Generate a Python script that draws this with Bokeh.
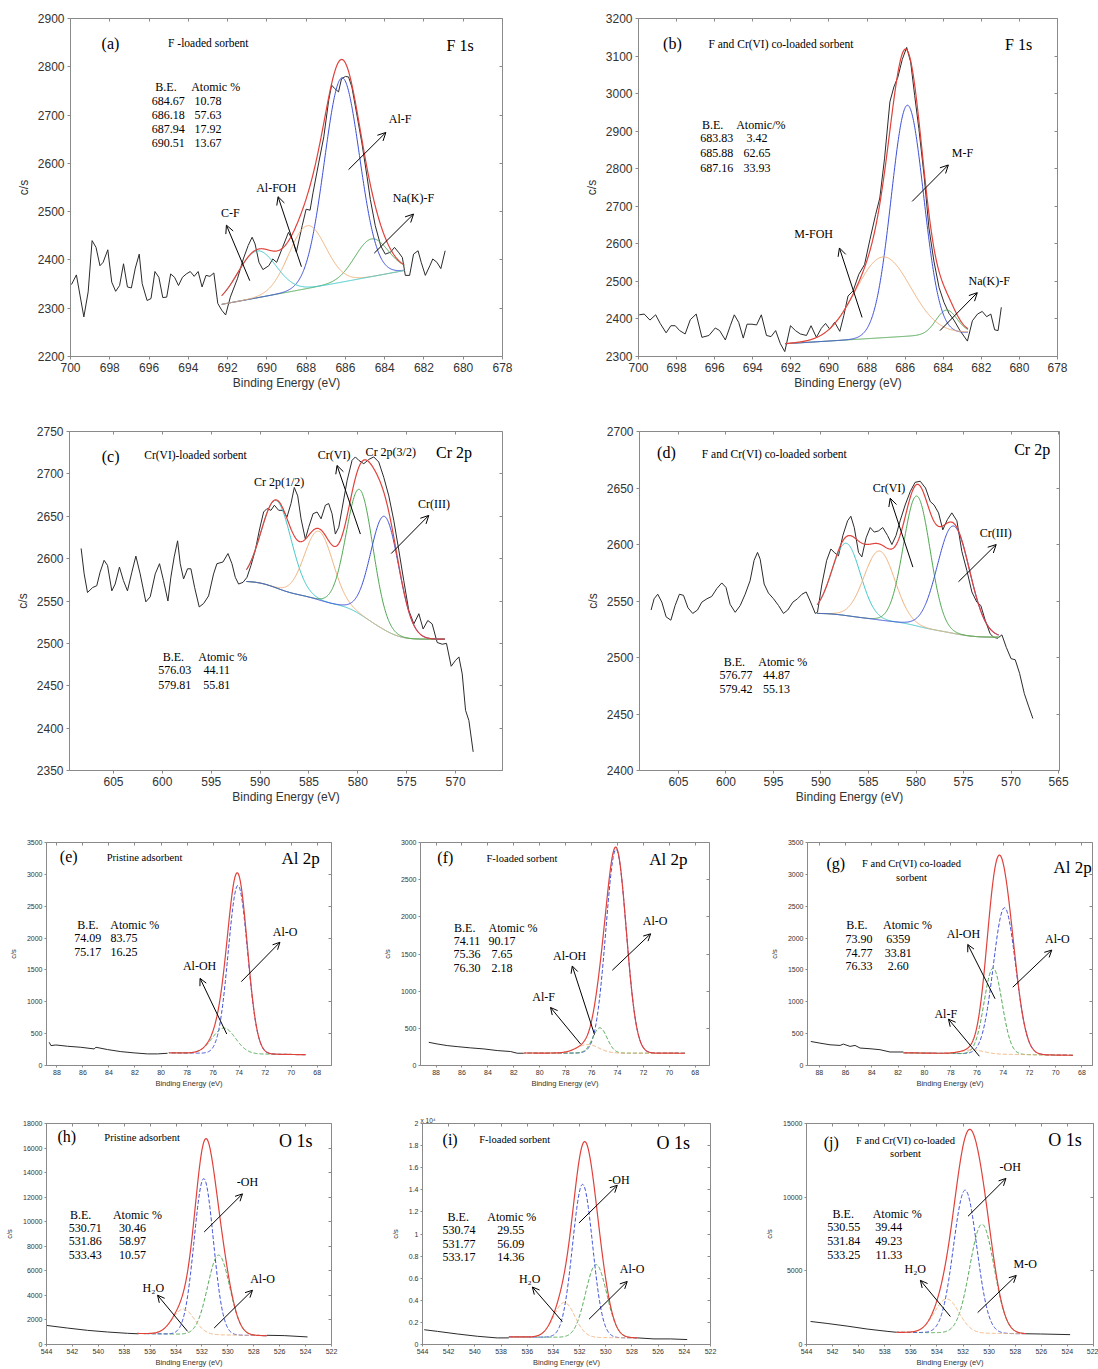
import numpy as np
from bokeh.plotting import figure
from bokeh.models import Range1d, FixedTicker, LinearAxis, Label, Arrow, OpenHead, Title
from bokeh.layouts import row, column
from bokeh.embed import file_html
from bokeh.resources import INLINE

SERIF = "Liberation Serif"
SANS = "Liberation Sans"
RAW = "#2b2b2b"
RED = "#e0413b"
BLUE = "#3d4fd8"
ORANGE = "#f0b07a"
CYAN = "#3ec5c8"
GREEN = "#4ca64f"
FRAME = "#8a8a8a"
TICKTXT = "#333333"

# ---------------------------------------------------------------- (a) F 1s, F-loaded sorbent
A_BE = [699.95, 699.70, 699.32, 699.10, 698.90, 698.70, 698.50, 698.34, 698.10, 697.90,
        697.70, 697.50, 697.30, 697.10, 696.90, 696.70, 696.50, 696.35, 696.10, 695.90,
        695.70, 695.50, 695.30, 695.10, 694.90, 694.70, 694.50, 694.30, 694.10, 693.90,
        693.70, 693.50, 693.30, 693.10, 692.90, 692.70, 692.50, 692.30, 692.10, 691.86,
        691.50, 691.20, 690.95, 690.75, 690.60, 690.40, 690.20, 689.90, 689.70, 689.50,
        689.20, 688.90, 688.70, 688.50, 688.20, 688.00, 687.80, 687.65, 687.36, 687.10,
        686.85, 686.70, 686.55, 686.35, 686.20, 686.00, 685.84, 685.67, 685.40, 685.16,
        684.90, 684.73, 684.48, 684.20, 683.97, 683.70, 683.50, 683.30, 683.10, 682.95,
        682.73, 682.53, 682.30, 682.14, 681.93, 681.70, 681.55, 681.34, 681.14, 680.92]
A_CS = [2349, 2369, 2282, 2334, 2440, 2426, 2388, 2395, 2421, 2354,
        2335, 2347, 2392, 2344, 2342, 2383, 2412, 2351, 2316, 2320,
        2376, 2364, 2322, 2323, 2371, 2364, 2347, 2364, 2371, 2376,
        2366, 2376, 2344, 2368, 2366, 2373, 2310, 2296, 2286, 2323,
        2361, 2402, 2430, 2447, 2433, 2395, 2380, 2388, 2402, 2395,
        2426, 2457, 2442, 2416, 2471, 2505, 2503, 2539, 2601, 2655,
        2731, 2762, 2755, 2748, 2775, 2780, 2779, 2758, 2697, 2642,
        2573, 2525, 2471, 2429, 2412, 2416, 2426, 2416, 2405, 2368,
        2368, 2412, 2419, 2395, 2368, 2388, 2402, 2395, 2382, 2419]
A_TAB_BE = ["684.67", "686.18", "687.94", "690.51"]
A_TAB_AT = ["10.78", "57.63", "17.92", "13.67"]
A_HEIGHT = [78, 423, 130, 97]          # Na(K)-F, Al-F, Al-FOH, C-F
A_FWHM = [2.0, 2.1, 2.2, 2.3]
A_COLORS = [GREEN, BLUE, ORANGE, CYAN]
A_FIT = (683.0, 2378, 692.3, 2308)
A_XTICKS = list(range(700, 677, -2))
A_YTICKS = list(range(2200, 2901, 100))

# ---------------------------------------------------------------- (b) F 1s, F and Cr(VI) co-loaded
B_BE = [699.96, 699.70, 699.40, 699.10, 698.86, 698.55, 698.30, 698.07, 697.84, 697.55,
        697.28, 696.97, 696.67, 696.30, 695.97, 695.74, 695.44, 695.18, 694.97, 694.74,
        694.50, 694.30, 694.04, 693.80, 693.55, 693.28, 693.04, 692.80, 692.55, 692.32,
        692.02, 691.76, 691.50, 691.18, 690.94, 690.66, 690.40, 690.18, 689.96, 689.70,
        689.43, 689.22, 689.00, 688.73, 688.43, 688.13, 687.85, 687.55, 687.33, 687.08,
        686.80, 686.59, 686.38, 686.15, 685.92, 685.71, 685.50, 685.28, 685.01, 684.75,
        684.49, 684.22, 683.96, 683.70, 683.44, 683.12, 682.73, 682.47, 682.20, 681.95,
        681.72, 681.50, 681.30, 681.12, 680.95]
B_CS = [2411, 2413, 2397, 2411, 2388, 2363, 2382, 2382, 2369, 2360,
        2398, 2413, 2351, 2356, 2376, 2369, 2344, 2382, 2411, 2391,
        2349, 2386, 2386, 2384, 2411, 2356, 2353, 2369, 2334, 2313,
        2382, 2369, 2360, 2356, 2382, 2351, 2375, 2388, 2373, 2391,
        2367, 2409, 2461, 2475, 2519, 2545, 2611, 2678, 2722, 2828,
        2978, 3018, 3044, 3091, 3123, 3084, 2995, 2907, 2784, 2642,
        2554, 2484, 2444, 2415, 2397, 2369, 2341, 2395, 2413, 2420,
        2406, 2413, 2371, 2369, 2431]
B_TAB_BE = ["683.83", "685.88", "687.16"]
B_TAB_AT = ["3.42", "62.65", "33.93"]
B_HEIGHT = [63, 615, 215]              # Na(K)-F, M-F, M-FOH
B_FWHM = [1.3, 2.0, 3.4]
B_COLORS = [GREEN, BLUE, ORANGE]
B_FIT = (682.7, 2364, 692.3, 2334)
B_XTICKS = list(range(700, 677, -2))
B_YTICKS = list(range(2300, 3201, 100))

# ---------------------------------------------------------------- (c) Cr 2p, Cr(VI)-loaded
C_BE = [608.31, 608.00, 607.66, 607.12, 606.71, 606.37, 605.96, 605.61, 605.17, 604.83,
        604.39, 603.98, 603.57, 603.12, 602.71, 602.27, 601.69, 601.24, 600.73, 600.29,
        599.88, 599.43, 599.13, 598.79, 598.44, 598.17, 597.83, 597.42, 597.08, 596.70,
        596.23, 595.78, 595.27, 594.76, 594.42, 593.80, 593.29, 592.88, 592.54, 592.20,
        591.75, 591.34, 590.93, 590.49, 590.05, 589.64, 589.30, 588.89, 588.54, 588.10,
        587.66, 587.25, 586.84, 586.50, 586.15, 585.81, 585.37, 585.03, 584.58, 584.17,
        583.76, 583.32, 582.98, 582.64, 582.30, 581.95, 581.61, 581.10, 580.59, 580.25,
        579.91, 579.39, 578.88, 578.37, 577.86, 577.35, 576.83, 576.32, 575.81, 575.30,
        574.79, 574.27, 573.76, 573.32, 572.84, 572.40, 571.88, 571.37, 570.93, 570.45,
        570.00, 569.66, 569.32, 568.98, 568.64, 568.20]
C_CS = [2612, 2582, 2560, 2566, 2568, 2584, 2598, 2592, 2562, 2570,
        2590, 2574, 2562, 2584, 2603, 2582, 2549, 2555, 2582, 2594,
        2574, 2550, 2578, 2602, 2621, 2594, 2576, 2588, 2588, 2566,
        2543, 2547, 2556, 2582, 2594, 2596, 2606, 2594, 2578, 2570,
        2572, 2578, 2592, 2610, 2635, 2655, 2659, 2657, 2663, 2657,
        2657, 2649, 2665, 2684, 2674, 2647, 2623, 2637, 2653, 2655,
        2647, 2663, 2665, 2653, 2629, 2637, 2659, 2692, 2716, 2720,
        2716, 2712, 2717, 2720, 2714, 2696, 2674, 2645, 2610, 2574,
        2539, 2523, 2535, 2517, 2527, 2523, 2501, 2499, 2500, 2473,
        2480, 2484, 2464, 2421, 2409, 2372]
C_TAB_BE = ["576.03", "579.81"]
C_TAB_AT = ["44.11", "55.81"]
C_CENTER = [588.34, 584.00, 579.81, 577.24]
C_HEIGHT = [103, 81, 147, 134]
C_FWHM = [3.6, 3.4, 3.2, 3.4]
C_COLORS = [CYAN, ORANGE, GREEN, BLUE]
C_FIT = (571.1, 2505, 591.4, 2573)
C_XTICKS = list(range(605, 564, -5))
C_YTICKS = list(range(2350, 2751, 50))

# ---------------------------------------------------------------- (d) Cr 2p, F and Cr(VI) co-loaded
D_BE = [607.88, 607.56, 607.18, 606.75, 606.30, 605.80, 605.35, 604.90, 604.47, 604.00,
        603.50, 603.00, 602.54, 602.00, 601.50, 600.96, 600.44, 600.00, 599.56, 599.03,
        598.50, 597.98, 597.46, 597.04, 596.68, 596.40, 595.98, 595.53, 595.00, 594.47,
        593.95, 593.50, 592.96, 592.47, 592.00, 591.56, 591.14, 590.60, 590.37, 589.90,
        589.40, 588.96, 588.60, 588.16, 587.70, 587.20, 586.86, 586.50, 586.05, 585.70,
        585.25, 584.82, 584.40, 583.95, 583.50, 583.00, 582.54, 582.10, 581.67, 581.14,
        580.60, 580.10, 579.56, 579.00, 578.50, 578.10, 577.63, 577.18, 576.70, 576.23,
        575.70, 575.18, 574.65, 574.12, 573.60, 573.18, 572.72, 572.20, 571.84, 571.42,
        570.96, 570.50, 570.00, 569.56, 569.10, 568.60, 568.16, 567.70]
D_CS = [2542, 2552, 2556, 2549, 2536, 2533, 2546, 2556, 2555, 2544,
        2539, 2542, 2549, 2552, 2554, 2561, 2566, 2562, 2547, 2540,
        2546, 2556, 2568, 2586, 2593, 2587, 2565, 2557, 2552, 2546,
        2539, 2542, 2549, 2552, 2556, 2558, 2550, 2539, 2540, 2565,
        2586, 2596, 2593, 2590, 2608, 2621, 2625, 2615, 2593, 2589,
        2606, 2615, 2611, 2612, 2615, 2608, 2600, 2608, 2621, 2635,
        2647, 2655, 2656, 2650, 2638, 2635, 2628, 2613, 2622, 2628,
        2621, 2594, 2577, 2558, 2549, 2546, 2533, 2521, 2518, 2517,
        2520, 2509, 2499, 2498, 2486, 2468, 2457, 2446]
D_TAB_BE = ["576.77", "579.42"]
D_TAB_AT = ["44.87", "55.13"]
D_CENTER = [587.35, 583.84, 579.91, 576.05]
D_HEIGHT = [64, 61, 115, 95]
D_FWHM = [3.5, 3.8, 3.3, 4.0]
D_COLORS = [CYAN, ORANGE, GREEN, BLUE]
D_FIT = (571.3, 2518, 590.4, 2539)
D_XTICKS = list(range(605, 564, -5))
D_YTICKS = list(range(2400, 2701, 50))

# ---------------------------------------------------------------- (e) Al 2p, pristine
E_BE = [88.59, 88.46, 88.08, 87.18, 86.16, 85.14, 85.00, 84.11, 83.09, 82.07, 81.04, 80.27, 79.50]
E_CS = [364, 312, 322, 302, 286, 260, 286, 250, 218, 198, 182, 182, 192]
E_TAB_BE = ["74.09", "75.17"]
E_TAB_AT = ["83.75", "16.25"]
E_HEIGHT = [2640, 400]                 # Al-O, Al-OH
E_FWHM = [1.75, 2.1]
E_COLORS = [BLUE, GREEN]
E_FIT = (68.9, 170, 79.4, 200)
AL_XTICKS = list(range(88, 67, -2))
E_YTICKS = list(range(0, 3501, 500))

# ---------------------------------------------------------------- (f) Al 2p, F-loaded
F_BE = [88.56, 87.92, 87.14, 86.37, 85.34, 84.31, 83.28, 82.25, 81.74, 81.23]
F_CS = [312, 290, 268, 254, 237, 223, 201, 188, 165, 165]
F_TAB_BE = ["74.11", "75.36", "76.30"]
F_TAB_AT = ["90.17", "7.65", "2.18"]
F_HEIGHT = [2740, 340, 115]            # Al-O, Al-OH, Al-F
F_FWHM = [1.85, 1.3, 2.0]
F_COLORS = [BLUE, GREEN, ORANGE]
F_FIT = (68.8, 165, 81.2, 168)
F_YTICKS = list(range(0, 3001, 500))

# ---------------------------------------------------------------- (g) Al 2p, F and Cr(VI) co-loaded
G_BE = [88.65, 87.95, 87.19, 86.42, 86.17, 85.66, 85.28, 84.90, 84.14, 83.38, 82.62, 81.60]
G_CS = [377, 351, 325, 315, 336, 300, 315, 274, 263, 248, 212, 212]
G_TAB_BE = ["73.90", "74.77", "76.33"]
G_TAB_AT = ["6359", "33.81", "2.60"]
G_CENTER = [73.90, 74.77, 76.33]
G_HEIGHT = [2300, 1350, 60]            # Al-O, Al-OH, Al-F
G_FWHM = [2.0, 1.6, 2.0]
G_COLORS = [BLUE, GREEN, ORANGE]
G_FIT = (68.7, 160, 81.6, 200)
G_YTICKS = list(range(0, 3501, 500))

# ---------------------------------------------------------------- (h) O 1s, pristine
H_BE = [544.0, 542.38, 540.83, 539.29, 537.75, 536.9]
H_CS = [1554, 1339, 1152, 1018, 911, 870]
H_TAIL_BE = [527.0, 525.65, 523.85]
H_TAIL_CS = [750, 723, 616]
H_TAB_BE = ["530.71", "531.86", "533.43"]
H_TAB_AT = ["30.46", "58.97", "10.57"]
H_HEIGHT = [6500, 12700, 2050]         # Al-O, -OH, H2O
H_FWHM = [2.0, 1.75, 2.0]
O_COLORS = [GREEN, BLUE, ORANGE]
H_FIT = (527.0, 720, 537.0, 900)
O_XTICKS = list(range(544, 521, -2))
H_YTICKS = list(range(0, 18001, 2000))

# ---------------------------------------------------------------- (i) O 1s, F-loaded
I_BE = [543.87, 542.86, 541.33, 539.80, 538.28, 537.4]
I_CS = [1337, 1189, 951, 743, 594, 600]
I_TAIL_BE = [527.6, 526.32, 525.05, 523.78]
I_TAIL_CS = [600, 505, 505, 446]
I_TAB_BE = ["530.74", "531.77", "533.17"]
I_TAB_AT = ["29.55", "56.09", "14.36"]
I_HEIGHT = [6600, 13850, 3150]
I_FWHM = [1.9, 1.8, 1.9]
I_FIT = (527.6, 600, 537.4, 690)
I_YTICKS = list(range(0, 20001, 2000))
I_YLABELS = ["0", "0.2", "0.4", "0.6", "0.8", "1", "1.2", "1.4", "1.6", "1.8", "2"]

# ---------------------------------------------------------------- (j) O 1s, F and Cr(VI) co-loaded
J_BE = [543.69, 542.42, 540.89, 539.35, 537.82, 537.1]
J_CS = [1563, 1429, 1250, 1049, 893, 830]
J_TAIL_BE = [527.2, 526.08, 523.79]
J_TAIL_CS = [730, 714, 670]
J_TAB_BE = ["530.55", "531.84", "533.25"]
J_TAB_AT = ["39.44", "49.23", "11.33"]
J_HEIGHT = [7400, 9700, 2300]          # M-O, -OH, H2O
J_FWHM = [2.2, 2.1, 2.2]
J_FIT = (527.2, 730, 537.1, 830)
J_YTICKS = list(range(0, 15001, 5000))


def panel(width, height, borders, xr, yr, xt, yt, small):
    l, r, t, b = borders
    p = figure(width=width, height=height, x_range=Range1d(*xr), y_range=Range1d(*yr),
               output_backend="svg", toolbar_location=None, title=None,
               min_border_left=l, min_border_right=r, min_border_top=t, min_border_bottom=b,
               background_fill_color="white", border_fill_color="white",
               outline_line_color=FRAME, outline_line_width=1)
    p.grid.visible = False
    for ax in (p.xaxis[0], p.yaxis[0]):
        ax.axis_line_color = FRAME
        ax.major_tick_line_color = FRAME
        ax.minor_tick_line_color = None
        ax.major_tick_out = 2 if small else 3
        ax.major_tick_in = 0
        ax.major_label_standoff = 2 if small else 3
        ax.major_label_text_font = SANS
        ax.major_label_text_font_size = "7px" if small else "12px"
        ax.major_label_text_color = TICKTXT
        ax.axis_label_text_font = SANS
        ax.axis_label_text_font_style = "normal"
        ax.axis_label_text_font_size = "7.5px" if small else "12px"
        ax.axis_label_text_color = TICKTXT
    p.xaxis.ticker = FixedTicker(ticks=xt)
    p.yaxis.ticker = FixedTicker(ticks=yt)
    p.xaxis.axis_label = "Binding Energy (eV)"
    p.yaxis.axis_label = "c/s"
    p.xaxis.axis_label_standoff = 1
    p.yaxis.axis_label_standoff = 6 if small else 4
    # mirrored inward ticks on the top and right edges of the frame
    for loc, ticks in (("above", xt), ("right", yt)):
        mirror = LinearAxis(ticker=FixedTicker(ticks=ticks),
                            major_label_overrides={v: "" for v in ticks},
                            major_label_text_font_size="0px", major_label_standoff=0,
                            major_tick_in=3, major_tick_out=0,
                            axis_line_color=None, major_tick_line_color=FRAME,
                            minor_tick_line_color=None)
        p.add_layout(mirror, loc)
    return p


def fit(p, spec, centers, heights, fwhms, colors, shirley=False, dash="solid"):
    lo, y_lo, hi, y_hi = spec
    be = np.linspace(lo, hi, 400)
    peaks = [h * np.exp(-4 * np.log(2) * ((be - c) / w) ** 2)
             for c, h, w in zip(centers, heights, fwhms)]
    total = np.sum(peaks, axis=0)
    if shirley:
        area = np.cumsum(total)
        area = (area - area[0]) / (area[-1] - area[0])
        base = y_lo + (y_hi - y_lo) * area
    else:
        base = y_lo + (y_hi - y_lo) * (be - lo) / (hi - lo)
    for pk, col in zip(peaks, colors):
        p.line(be, base + pk, line_color=col, line_width=1, line_dash=dash)
    p.line(be, base + total, line_color=RED, line_width=1.2)


def note(p, fx, fy, text, size, align="center"):
    x0, x1 = p.x_range.start, p.x_range.end
    y0, y1 = p.y_range.start, p.y_range.end
    p.add_layout(Label(x=x0 + fx * (x1 - x0), y=y0 + fy * (y1 - y0), text=text,
                       text_font=SERIF, text_font_size=f"{size}px", text_color="black",
                       text_align=align, text_baseline="middle"))


def pointer(p, xs, ys, xe, ye, size=8):
    p.add_layout(Arrow(end=OpenHead(size=size, line_width=1, line_color="black"),
                       x_start=xs, y_start=ys, x_end=xe, y_end=ye,
                       line_width=1, line_color="black"))


def table(p, head, hfx, hfy, cfx, rfy, col1, col2, size=12):
    note(p, hfx[0], hfy, "B.E.", size)
    note(p, hfx[1], hfy, head, size)
    for fy, a, b in zip(rfy, col1, col2):
        note(p, cfx[0], fy, a, size)
        note(p, cfx[1], fy, b, size)


def vals(strings):
    return [float(s) for s in strings]


# ---------------------------------------------------------------- (a)
pa = panel(560, 410, (70, 58, 18, 52), (700, 678), (2200, 2900), A_XTICKS, A_YTICKS, False)
pa.line(A_BE, A_CS, line_color=RAW, line_width=1)
fit(pa, A_FIT, vals(A_TAB_BE), A_HEIGHT, A_FWHM, A_COLORS)
note(pa, 0.0925, 0.927, "(a)", 16)
note(pa, 0.319, 0.927, "F -loaded sorbent", 11.5)
note(pa, 0.902, 0.920, "F 1s", 16)
table(pa, "Atomic %", (0.221, 0.336), 0.797, (0.226, 0.318), [0.755, 0.714, 0.672, 0.631], A_TAB_BE, A_TAB_AT)
note(pa, 0.370, 0.426, "C-F", 12)
note(pa, 0.476, 0.499, "Al-FOH", 12)
note(pa, 0.763, 0.703, "Al-F", 12)
note(pa, 0.794, 0.470, "Na(K)-F", 12)
pointer(pa, 690.87, 2357, 692.06, 2472)
pointer(pa, 688.24, 2386, 689.43, 2531)
pointer(pa, 685.84, 2587, 683.94, 2664)
pointer(pa, 684.53, 2414, 682.53, 2495)

# ---------------------------------------------------------------- (b)
pb = panel(538, 410, (78, 41, 16, 54), (700, 678), (2300, 3200), B_XTICKS, B_YTICKS, False)
pb.line(B_BE, B_CS, line_color=RAW, line_width=1)
fit(pb, B_FIT, vals(B_TAB_BE), B_HEIGHT, B_FWHM, B_COLORS)
note(pb, 0.081, 0.925, "(b)", 16)
note(pb, 0.340, 0.925, "F and Cr(VI) co-loaded sorbent", 11.5)
note(pb, 0.912, 0.923, "F  1s", 16)
table(pb, "Atomic/%", (0.177, 0.292), 0.684, (0.187, 0.283), [0.645, 0.601, 0.559], B_TAB_BE, B_TAB_AT)
note(pb, 0.418, 0.361, "M-FOH", 12)
note(pb, 0.773, 0.601, "M-F", 12)
note(pb, 0.837, 0.224, "Na(K)-F", 12)
pointer(pb, 688.26, 2404, 689.45, 2589)
pointer(pb, 685.63, 2713, 683.73, 2810)
pointer(pb, 684.17, 2369, 682.21, 2470)

# ---------------------------------------------------------------- (c)
pc = panel(560, 410, (69, 58, 21, 50), (609.5, 565.2), (2350, 2750), C_XTICKS, C_YTICKS, False)
pc.line(C_BE, C_CS, line_color=RAW, line_width=1)
fit(pc, C_FIT, C_CENTER, C_HEIGHT, C_FWHM, C_COLORS, shirley=True)
note(pc, 0.095, 0.926, "(c)", 16)
note(pc, 0.291, 0.931, "Cr(VI)-loaded sorbent", 11.5)
note(pc, 0.888, 0.937, "Cr 2p", 16)
note(pc, 0.484, 0.851, "Cr 2p(1/2)", 12)
note(pc, 0.611, 0.931, "Cr(VI)", 12)
note(pc, 0.742, 0.939, "Cr 2p(3/2)", 12)
note(pc, 0.842, 0.787, "Cr(III)", 12)
table(pc, "Atomic %", (0.240, 0.354), 0.334, (0.243, 0.340), [0.295, 0.251], C_TAB_BE, C_TAB_AT)
pointer(pc, 579.74, 2629, 582.13, 2710)
pointer(pc, 576.59, 2606, 572.74, 2651)

# ---------------------------------------------------------------- (d)
pd_ = panel(538, 410, (79, 39, 20, 49), (609.1, 564.9), (2400, 2700), D_XTICKS, D_YTICKS, False)
pd_.line(D_BE, D_CS, line_color=RAW, line_width=1)
fit(pd_, D_FIT, D_CENTER, D_HEIGHT, D_FWHM, D_COLORS, shirley=True)
note(pd_, 0.064, 0.939, "(d)", 16)
note(pd_, 0.321, 0.935, "F and Cr(VI) co-loaded sorbent", 11.5)
note(pd_, 0.935, 0.946, "Cr 2p", 16)
note(pd_, 0.594, 0.834, "Cr(VI)", 12)
note(pd_, 0.848, 0.702, "Cr(III)", 12)
table(pd_, "Atomic %", (0.226, 0.341), 0.321, (0.230, 0.326), [0.282, 0.240], D_TAB_BE, D_TAB_AT)
pointer(pd_, 580.33, 2580, 582.72, 2641)
pointer(pd_, 575.53, 2567, 571.56, 2600)

# ---------------------------------------------------------------- (e)
pe = panel(370, 280, (46, 39, 22, 33), (88.8, 66.9), (0, 3500), AL_XTICKS, E_YTICKS, True)
pe.line(E_BE, E_CS, line_color=RAW, line_width=1)
fit(pe, E_FIT, vals(E_TAB_BE), E_HEIGHT, E_FWHM, E_COLORS, dash="4 2")
note(pe, 0.078, 0.936, "(e)", 16)
note(pe, 0.344, 0.933, "Pristine adsorbent", 10.5)
note(pe, 0.892, 0.929, "Al 2p", 17)
table(pe, "Atomic %", (0.145, 0.310), 0.632, (0.145, 0.272), [0.572, 0.510], E_TAB_BE, E_TAB_AT)
note(pe, 0.537, 0.446, "Al-OH", 12)
note(pe, 0.837, 0.597, "Al-O", 12)
pointer(pe, 74.95, 494, 77.0, 1368, 7)
pointer(pe, 73.83, 1316, 70.86, 1934, 7)

# ---------------------------------------------------------------- (f)
pf = panel(370, 280, (50, 31, 21, 35), (89.2, 66.9), (0, 3000), AL_XTICKS, F_YTICKS, True)
pf.line(F_BE, F_CS, line_color=RAW, line_width=1)
fit(pf, F_FIT, vals(F_TAB_BE), F_HEIGHT, F_FWHM, F_COLORS, dash="4 2")
note(pf, 0.086, 0.933, "(f)", 16)
note(pf, 0.351, 0.930, "F-loaded sorbent", 10.5)
note(pf, 0.858, 0.923, "Al 2p", 17)
table(pf, "Atomic %", (0.153, 0.320), 0.618, (0.161, 0.282), [0.558, 0.499, 0.439], F_TAB_BE, F_TAB_AT)
note(pf, 0.516, 0.491, "Al-OH", 12)
note(pf, 0.426, 0.308, "Al-F", 12)
note(pf, 0.812, 0.650, "Al-O", 12)
pointer(pf, 75.77, 415, 77.49, 1339, 7)
pointer(pf, 76.85, 290, 79.17, 781, 7)
pointer(pf, 74.4, 1281, 71.44, 1772, 7)

# ---------------------------------------------------------------- (g)
pg = panel(358, 280, (67, 6, 22, 32), (88.9, 67.2), (0, 3500), AL_XTICKS, G_YTICKS, True)
pg.line(G_BE, G_CS, line_color=RAW, line_width=1)
fit(pg, G_FIT, G_CENTER, G_HEIGHT, G_FWHM, G_COLORS, dash="4 2")
note(pg, 0.099, 0.908, "(g)", 16)
note(pg, 0.365, 0.908, "F and Cr(VI) co-loaded", 10.5)
note(pg, 0.365, 0.842, "sorbent", 10.5)
note(pg, 0.930, 0.886, "Al 2p", 17)
table(pg, "Atomic %", (0.173, 0.351), 0.628, (0.181, 0.318), [0.569, 0.506, 0.444], G_TAB_BE, G_TAB_AT)
note(pg, 0.547, 0.590, "Al-OH", 12)
note(pg, 0.877, 0.569, "Al-O", 12)
note(pg, 0.485, 0.233, "Al-F", 12)
pointer(pg, 74.62, 1048, 76.7, 1900, 7)
pointer(pg, 73.27, 1229, 70.3, 1812, 7)
pointer(pg, 75.81, 145, 78.17, 728, 7)

# ---------------------------------------------------------------- (h)
ph = panel(370, 269, (46, 39, 23, 22), (544, 522), (0, 18000), O_XTICKS, H_YTICKS, True)
ph.line(H_BE, H_CS, line_color=RAW, line_width=1)
ph.line(H_TAIL_BE, H_TAIL_CS, line_color=RAW, line_width=1)
fit(ph, H_FIT, vals(H_TAB_BE), H_HEIGHT, H_FWHM, O_COLORS, dash="4 2")
note(ph, 0.071, 0.940, "(h)", 16)
note(ph, 0.340, 0.935, "Pristine  adsorbent", 10.5)
note(ph, 0.875, 0.920, "O 1s", 18)
table(ph, "Atomic %", (0.120, 0.319), 0.588, (0.136, 0.302), [0.528, 0.469, 0.406], H_TAB_BE, H_TAB_AT)
note(ph, 0.705, 0.737, "-OH", 12)
note(ph, 0.758, 0.295, "Al-O", 12)
note(ph, 0.375, 0.256, "H₂O", 12)
pointer(ph, 531.83, 9162, 528.87, 12269, 7)
pointer(ph, 531.06, 1339, 528.1, 4420, 7)
pointer(ph, 533.11, 1072, 535.43, 4018, 7)

# ---------------------------------------------------------------- (i)
pi = panel(370, 269, (52, 30, 21, 24), (544, 522), (0, 20000), O_XTICKS, I_YTICKS, True)
pi.yaxis[0].major_label_overrides = dict(zip(I_YTICKS, I_YLABELS))
pi.add_layout(Title(text="x 10⁴", align="left", text_font=SANS, text_font_style="normal",
                    text_font_size="6.5px", text_color=TICKTXT, standoff=0, offset=-2), "above")
pi.line(I_BE, I_CS, line_color=RAW, line_width=1)
pi.line(I_TAIL_BE, I_TAIL_CS, line_color=RAW, line_width=1)
fit(pi, I_FIT, vals(I_TAB_BE), I_HEIGHT, I_FWHM, O_COLORS, dash="4 2")
note(pi, 0.096, 0.929, "(i)", 16)
note(pi, 0.320, 0.926, "F-loaded sorbent", 10.5)
note(pi, 0.871, 0.911, "O 1s", 18)
table(pi, "Atomic %", (0.124, 0.310), 0.579, (0.127, 0.306), [0.516, 0.456, 0.394], I_TAB_BE, I_TAB_AT)
note(pi, 0.682, 0.746, "-OH", 12)
note(pi, 0.728, 0.342, "Al-O", 12)
note(pi, 0.372, 0.297, "H₂O", 12)
pointer(pi, 532.05, 10996, 529.12, 14413, 7)
pointer(pi, 531.28, 2288, 528.36, 5706, 7)
pointer(pi, 533.32, 2080, 535.61, 5201, 7)

# ---------------------------------------------------------------- (j)
pj = panel(358, 269, (66, 5, 23, 22), (544, 522), (0, 15000), O_XTICKS, J_YTICKS, True)
pj.line(J_BE, J_CS, line_color=RAW, line_width=1)
pj.line(J_TAIL_BE, J_TAIL_CS, line_color=RAW, line_width=1)
fit(pj, J_FIT, vals(J_TAB_BE), J_HEIGHT, J_FWHM, O_COLORS, dash="4 2")
note(pj, 0.086, 0.914, "(j)", 16)
note(pj, 0.345, 0.923, "F and Cr(VI) co-loaded", 10.5)
note(pj, 0.345, 0.863, "sorbent", 10.5)
note(pj, 0.901, 0.926, "O 1s", 18)
table(pj, "Atomic %", (0.128, 0.316), 0.591, (0.130, 0.287), [0.531, 0.467, 0.405], J_TAB_BE, J_TAB_AT)
note(pj, 0.710, 0.802, "-OH", 12)
note(pj, 0.762, 0.365, "M-O", 12)
note(pj, 0.379, 0.342, "H₂O", 12)
pointer(pj, 531.62, 8705, 528.71, 11272, 7)
pointer(pj, 530.88, 2165, 527.92, 4688, 7)
pointer(pj, 532.97, 1897, 535.27, 4353, 7)

layout = column(row(pa, pb), row(pc, pd_), row(pe, pf, pg), row(ph, pi, pj))
open("out.html", "w").write(file_html(layout, INLINE, title="XPS spectra"))
